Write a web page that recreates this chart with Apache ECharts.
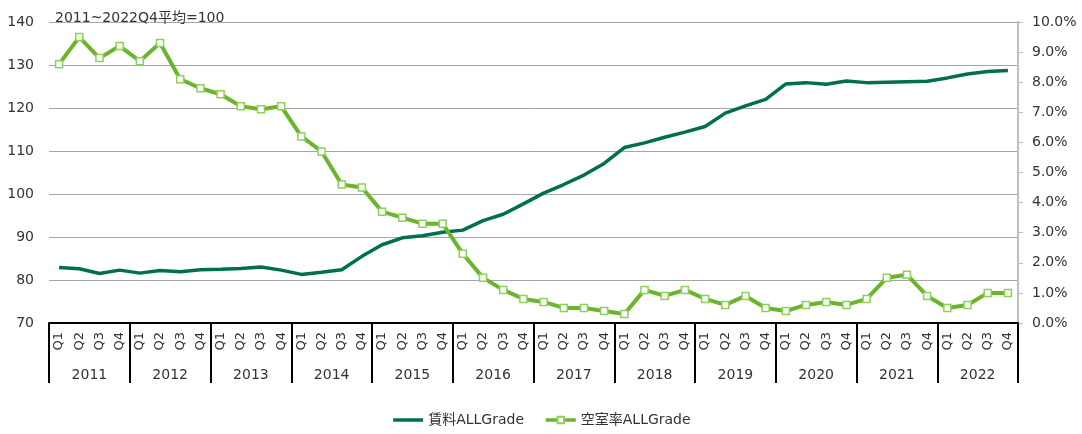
<!DOCTYPE html>
<html>
<head>
<meta charset="utf-8">
<script src="https://cdn.jsdelivr.net/npm/echarts@6/dist/echarts.min.js"></script>
<style>
  html, body { margin: 0; padding: 0; background: #fff; }
  #chart { width: 1082px; height: 434px; }
</style>
</head>
<body>
<div id="chart"></div>
<script>
var years = ['2011', '2012', '2013', '2014', '2015', '2016', '2017', '2018', '2019', '2020', '2021', '2022'];
var quarterNames = ['Q1', 'Q2', 'Q3', 'Q4'];

// rent index (2011~2022Q4 avg = 100)
var rent = [
    82.9, 82.6, 81.5, 82.3,
    81.6, 82.2, 81.9, 82.4,
    82.5, 82.7, 83.0, 82.3,
    81.3, 81.8, 82.4, 85.5,
    88.2, 89.8, 90.3, 91.1,
    91.6, 93.8, 95.3, 97.7,
    100.2, 102.2, 104.4, 107.1,
    110.8, 111.9, 113.2, 114.4,
    115.7, 118.8, 120.5, 122.0,
    125.6, 125.9, 125.5, 126.3,
    125.9, 126.0, 126.1, 126.2,
    127.0, 127.9, 128.5, 128.7
];

// vacancy rate, %
var vacancy = [
    8.6, 9.5, 8.8, 9.2,
    8.7, 9.3, 8.1, 7.8,
    7.6, 7.2, 7.1, 7.2,
    6.2, 5.7, 4.6, 4.5,
    3.7, 3.5, 3.3, 3.3,
    2.3, 1.5, 1.1, 0.8,
    0.7, 0.5, 0.5, 0.4,
    0.3, 1.1, 0.9, 1.1,
    0.8, 0.6, 0.9, 0.5,
    0.4, 0.6, 0.7, 0.6,
    0.8, 1.5, 1.6, 0.9,
    0.5, 0.6, 1.0, 1.0
];

var quarters = [];
years.forEach(function (y) {
    quarterNames.forEach(function (q) { quarters.push(q); });
});

var font = 'DejaVu Sans, "Noto Sans CJK JP", sans-serif';
var txt = '#333333';

var chart = echarts.init(document.getElementById('chart'));

var option = {
    animation: false,
    textStyle: {fontFamily: font},
    title: {
        text: '2011~2022Q4平均=100',
        left: 50,
        top: 6,
        textStyle: {fontSize: 14, fontWeight: 'normal', color: txt, fontFamily: font}
    },
    legend: {
        bottom: 2,
        left: 'center',
        itemWidth: 30,
        itemHeight: 8,
        itemGap: 20,
        textStyle: {fontSize: 14, color: txt, fontFamily: font},
        data: [
            {name: '賃料ALLGrade', itemStyle: {opacity: 0}, lineStyle: {width: 3.5}},
            {name: '空室率ALLGrade', lineStyle: {width: 3.5}}
        ]
    },
    grid: {left: 49, right: 64, top: 22, bottom: 111},
    xAxis: [
        {
            type: 'category',
            data: quarters,
            boundaryGap: true,
            position: 'bottom',
            axisLine: {show: true, lineStyle: {color: '#000', width: 2}},
            axisTick: {show: false},
            axisLabel: {rotate: 90, margin: 9, fontSize: 13, color: txt, interval: 0}
        },
        {
            type: 'category',
            data: years,
            boundaryGap: true,
            position: 'bottom',
            axisLine: {show: false},
            axisTick: {show: true, length: 60, lineStyle: {color: '#000', width: 2}},
            axisLabel: {margin: 45, fontSize: 14, color: txt, interval: 0}
        }
    ],
    yAxis: [
        {
            type: 'value',
            min: 70,
            max: 140,
            interval: 10,
            axisLine: {show: false},
            axisTick: {show: false},
            axisLabel: {margin: 15, fontSize: 14, color: txt},
            splitLine: {lineStyle: {color: '#a6a6a6', width: 1}}
        },
        {
            type: 'value',
            min: 0,
            max: 10,
            interval: 1,
            position: 'right',
            axisLine: {show: true, lineStyle: {color: '#bfbfbf', width: 2}},
            axisTick: {show: true, length: 5, lineStyle: {color: '#bfbfbf', width: 1}},
            axisLabel: {
                margin: 14,
                fontSize: 14,
                color: txt,
                formatter: function (v) { return v.toFixed(1) + '%'; }
            },
            splitLine: {show: false}
        }
    ],
    series: [
        {
            name: '賃料ALLGrade',
            type: 'line',
            xAxisIndex: 0,
            yAxisIndex: 0,
            data: rent,
            symbol: 'none',
            lineStyle: {color: '#00704a', width: 3.5},
            itemStyle: {color: '#00704a'},
            z: 2
        },
        {
            name: '空室率ALLGrade',
            type: 'line',
            xAxisIndex: 0,
            yAxisIndex: 1,
            data: vacancy,
            symbol: 'rect',
            symbolSize: 7,
            lineStyle: {color: '#6ab52d', width: 4},
            itemStyle: {color: '#ffffff', borderColor: '#8fd058', borderWidth: 1.5},
            z: 3
        }
    ]
};

chart.setOption(option);
</script>
</body>
</html>
